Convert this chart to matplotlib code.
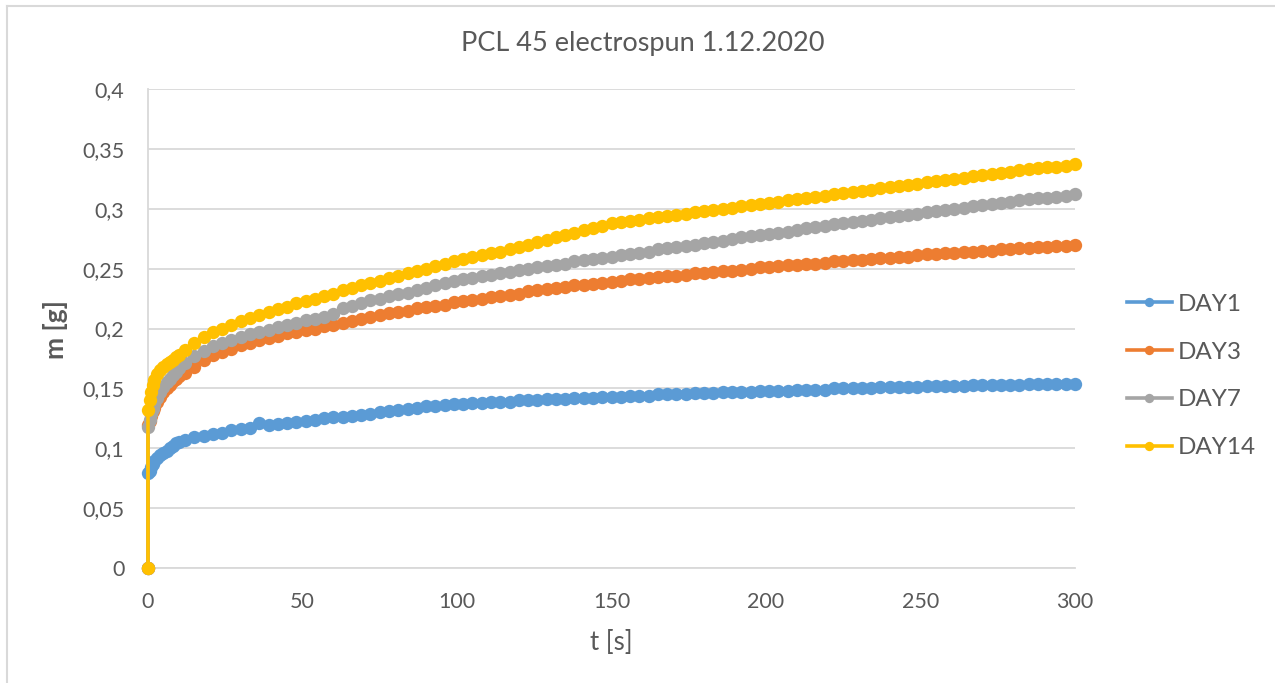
import matplotlib
matplotlib.use("Agg")
import matplotlib.pyplot as plt
from matplotlib.lines import Line2D

# ---- data ----
t_early = [0, 0, 0.5, 1, 1.5, 2, 3, 4, 5, 6, 7, 8, 9, 10]
t_main = list(range(12, 301, 3))
time = t_early + t_main

day1 = [0, 0.079, 0.081, 0.084, 0.087, 0.089, 0.092, 0.094, 0.096, 0.098, 0.100, 0.102, 0.104, 0.105,
        0.107, 0.109, 0.110, 0.112, 0.113, 0.115, 0.116, 0.117, 0.121, 0.119,
        0.120, 0.121, 0.122, 0.123, 0.124, 0.125, 0.126, 0.126, 0.127, 0.128,
        0.129, 0.130, 0.131, 0.132, 0.133, 0.134, 0.135, 0.135, 0.136, 0.137,
        0.137, 0.138, 0.138, 0.139, 0.139, 0.139, 0.140, 0.140, 0.140, 0.141,
        0.141, 0.141, 0.142, 0.142, 0.142, 0.143, 0.143, 0.143, 0.144, 0.144,
        0.144, 0.145, 0.145, 0.145, 0.145, 0.146, 0.146, 0.146, 0.147, 0.147,
        0.147, 0.147, 0.148, 0.148, 0.148, 0.148, 0.149, 0.149, 0.149, 0.149,
        0.150, 0.150, 0.150, 0.150, 0.150, 0.151, 0.151, 0.151, 0.151, 0.151,
        0.152, 0.152, 0.152, 0.152, 0.152, 0.153, 0.153, 0.153, 0.153, 0.153,
        0.153, 0.154, 0.154, 0.154, 0.154, 0.154, 0.154]

day3 = [0, 0.119, 0.123, 0.127, 0.131, 0.134, 0.139, 0.143, 0.147, 0.150, 0.153, 0.156, 0.158, 0.160,
        0.163, 0.168, 0.174, 0.178, 0.180, 0.183, 0.186, 0.188, 0.190, 0.192,
        0.194, 0.196, 0.197, 0.199, 0.200, 0.202, 0.203, 0.205, 0.206, 0.208,
        0.210, 0.211, 0.213, 0.214, 0.215, 0.217, 0.218, 0.219, 0.220, 0.222,
        0.223, 0.224, 0.225, 0.226, 0.227, 0.228, 0.229, 0.231, 0.232, 0.233,
        0.234, 0.235, 0.236, 0.236, 0.237, 0.238, 0.239, 0.240, 0.241, 0.241,
        0.242, 0.243, 0.244, 0.244, 0.245, 0.246, 0.246, 0.247, 0.248, 0.248,
        0.249, 0.250, 0.251, 0.251, 0.252, 0.253, 0.253, 0.254, 0.254, 0.255,
        0.256, 0.256, 0.257, 0.257, 0.258, 0.259, 0.259, 0.260, 0.260, 0.261,
        0.262, 0.262, 0.263, 0.263, 0.264, 0.264, 0.265, 0.265, 0.266, 0.266,
        0.267, 0.267, 0.268, 0.268, 0.269, 0.269, 0.270]

day7 = [0, 0.118, 0.124, 0.129, 0.133, 0.137, 0.142, 0.147, 0.151, 0.155, 0.158, 0.161, 0.164, 0.167,
        0.171, 0.177, 0.181, 0.185, 0.188, 0.190, 0.193, 0.195, 0.197, 0.199,
        0.201, 0.203, 0.205, 0.207, 0.208, 0.210, 0.212, 0.217, 0.219, 0.221,
        0.224, 0.225, 0.227, 0.229, 0.230, 0.232, 0.234, 0.236, 0.238, 0.240,
        0.241, 0.242, 0.244, 0.245, 0.246, 0.247, 0.249, 0.250, 0.251, 0.252,
        0.253, 0.254, 0.256, 0.257, 0.258, 0.259, 0.260, 0.261, 0.262, 0.263,
        0.264, 0.266, 0.267, 0.268, 0.269, 0.270, 0.271, 0.272, 0.273, 0.275,
        0.276, 0.277, 0.278, 0.279, 0.280, 0.281, 0.282, 0.284, 0.285, 0.286,
        0.287, 0.288, 0.289, 0.290, 0.291, 0.292, 0.293, 0.294, 0.295, 0.296,
        0.297, 0.298, 0.299, 0.300, 0.301, 0.302, 0.303, 0.304, 0.305, 0.306,
        0.307, 0.308, 0.309, 0.309, 0.310, 0.311, 0.312]

day14 = [0, 0.132, 0.140, 0.147, 0.153, 0.157, 0.162, 0.165, 0.168, 0.170, 0.172, 0.174, 0.176, 0.178,
         0.182, 0.188, 0.193, 0.197, 0.200, 0.203, 0.206, 0.209, 0.211, 0.214,
         0.216, 0.218, 0.221, 0.223, 0.225, 0.227, 0.229, 0.232, 0.234, 0.236,
         0.238, 0.240, 0.242, 0.244, 0.246, 0.248, 0.250, 0.252, 0.254, 0.256,
         0.258, 0.260, 0.261, 0.263, 0.264, 0.266, 0.268, 0.270, 0.272, 0.274,
         0.276, 0.278, 0.280, 0.282, 0.284, 0.286, 0.288, 0.289, 0.290, 0.291,
         0.292, 0.293, 0.294, 0.295, 0.296, 0.297, 0.298, 0.299, 0.300, 0.301,
         0.302, 0.303, 0.304, 0.305, 0.306, 0.307, 0.308, 0.309, 0.310, 0.311,
         0.312, 0.313, 0.314, 0.315, 0.316, 0.317, 0.318, 0.319, 0.320, 0.321,
         0.322, 0.323, 0.324, 0.325, 0.326, 0.327, 0.328, 0.329, 0.330, 0.331,
         0.332, 0.333, 0.334, 0.335, 0.335, 0.336, 0.337]

series_names = ["DAY1", "DAY3", "DAY7", "DAY14"]
series_values = [day1, day3, day7, day14]
series_colors = ["#5B9BD5", "#ED7D31", "#A5A5A5", "#FFC000"]

x_ticks = [0, 50, 100, 150, 200, 250, 300]
x_tick_labels = ["0", "50", "100", "150", "200", "250", "300"]
y_ticks = [0, 0.05, 0.1, 0.15, 0.2, 0.25, 0.3, 0.35, 0.4]
y_tick_labels = ["0", "0,05", "0,1", "0,15", "0,2", "0,25", "0,3", "0,35", "0,4"]

title = "PCL 45 electrospun 1.12.2020"
x_label = "t [s]"
y_label = "m [g]"

# ---- figure ----
plt.rcParams['font.family'] = ['Lato', 'DejaVu Sans']
W, H = 1275, 683
fig = plt.figure(figsize=(W / 100, H / 100), dpi=100)
text_color = "#595959"
grid_color = "#D9D9D9"

ax = fig.add_axes([148 / W, 1 - 568 / H, (1075 - 148) / W, (568 - 89) / H])

for name, vals, col in zip(series_names, series_values, series_colors):
    ax.plot(time, vals, color=col, lw=2.6, marker='o', markersize=9.6,
            markeredgewidth=0, label=name, clip_on=False, zorder=3)

ax.set_xlim(0, 300)
ax.set_ylim(0, 0.4)
ax.set_xticks(x_ticks)
ax.set_xticklabels(x_tick_labels)
ax.set_yticks(y_ticks)
ax.set_yticklabels(y_tick_labels)
ax.tick_params(axis='both', length=0, labelsize=15.5, labelcolor=text_color)
ax.tick_params(axis='y', pad=17)
ax.tick_params(axis='x', pad=17)
ax.grid(axis='y', color=grid_color, lw=1.3, zorder=0)
ax.set_axisbelow(True)
for s in ['top', 'right']:
    ax.spines[s].set_visible(False)
ax.spines['left'].set_color(grid_color)
ax.spines['bottom'].set_color(grid_color)
ax.spines['left'].set_linewidth(1.3)
ax.spines['bottom'].set_linewidth(1.3)

fig.text(643 / W, 1 - 44 / H, title, ha='center', va='center', fontsize=19.5, color=text_color)
fig.text(611 / W, 1 - 643 / H, x_label, ha='center', va='center', fontsize=18.5, color=text_color)
fig.text(55 / W, 1 - 330 / H, y_label, ha='center', va='center', fontsize=19, color=text_color,
         rotation=90, fontweight='bold')

# chart border (partially visible)
fig.add_artist(Line2D([7 / W, 1.0], [1 - 6 / H, 1 - 6 / H], transform=fig.transFigure, color=grid_color, lw=1.5))
fig.add_artist(Line2D([7 / W, 7 / W], [0.0, 1 - 6 / H], transform=fig.transFigure, color=grid_color, lw=1.5))

handles, labels = ax.get_legend_handles_labels()
leg = fig.legend(handles, labels, loc='center left', bbox_to_anchor=(1127 / W, 1 - 376 / H),
                 frameon=False, fontsize=17.5, labelcolor=text_color, handlelength=1.85,
                 handletextpad=0.22, labelspacing=1.1, borderpad=0, borderaxespad=0,
                 markerscale=0.7)

fig.savefig("out.png", dpi=100, facecolor='white')
